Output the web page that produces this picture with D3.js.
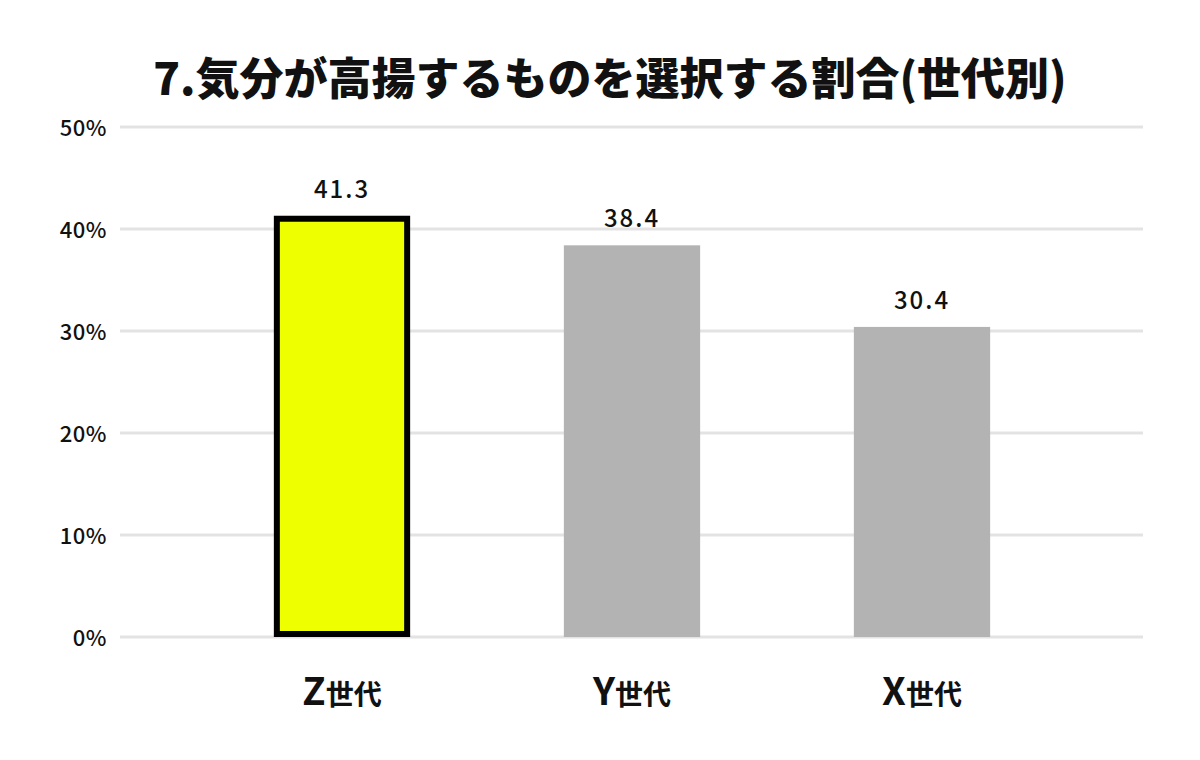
<!DOCTYPE html>
<html lang="ja">
<head>
    <meta charset="UTF-8">
    <title>7.気分が高揚するものを選択する割合(世代別)</title>
    <script src="https://cdn.jsdelivr.net/npm/d3@7/dist/d3.min.js"></script>
    <style>
        body {
            margin: 0;
            padding: 0;
            background-color: white;
        }
        svg {
            display: block;
            font-family: "Noto Sans CJK JP", "Noto Sans", sans-serif;
        }
    </style>
</head>
<body>
    <div id="chart"></div>
    <script>
        const width = 1200;
        const height = 760;

        // data
        const titleText = "7.気分が高揚するものを選択する割合(世代別)";
        const generations = ["Z", "Y", "X"];
        const categorySuffix = "世代";
        const shares = [41.3, 38.4, 30.4];
        const yTicks = [0, 10, 20, 30, 40, 50];

        const x = d3.scaleBand()
            .domain(generations)
            .range([197, 1067])
            .paddingInner(0.53)
            .paddingOuter(0.265);

        const y = d3.scaleLinear()
            .domain([0, 50])
            .range([637, 127]);

        const svg = d3.select("#chart")
            .append("svg")
            .attr("width", width)
            .attr("height", height);

        // title
        svg.append("text")
            .attr("x", 610)
            .attr("y", 95)
            .attr("text-anchor", "middle")
            .attr("font-size", 44)
            .attr("font-weight", 900)
            .attr("letter-spacing", 0)
            .attr("fill", "#111")
            .text(titleText);

        // gridlines
        svg.append("g")
            .selectAll("line")
            .data(yTicks)
            .join("line")
            .attr("x1", 120)
            .attr("x2", 1143)
            .attr("y1", d => y(d))
            .attr("y2", d => y(d))
            .attr("stroke", "#e3e3e3")
            .attr("stroke-width", 3);

        // y labels
        svg.append("g")
            .selectAll("text")
            .data(yTicks)
            .join("text")
            .attr("x", 107)
            .attr("y", d => y(d) + 9)
            .attr("text-anchor", "end")
            .attr("font-size", 22)
            .attr("font-weight", 500)
            .attr("letter-spacing", 0.5)
            .attr("fill", "#111")
            .text(d => d + "%");

        // bars (first one highlighted)
        const rows = generations.map((g, i) => ({ g, v: shares[i], i }));

        svg.append("g")
            .selectAll("rect")
            .data(rows)
            .join("rect")
            .attr("x", d => d.i === 0 ? x(d.g) + 3 : x(d.g))
            .attr("width", d => d.i === 0 ? x.bandwidth() - 6 : x.bandwidth())
            .attr("y", d => d.i === 0 ? y(d.v) + 3 : y(d.v))
            .attr("height", d => d.i === 0 ? y(0) - y(d.v) - 6 : y(0) - y(d.v))
            .attr("fill", d => d.i === 0 ? "#eeff00" : "#b3b3b3")
            .attr("stroke", d => d.i === 0 ? "#000" : "none")
            .attr("stroke-width", 6);

        // value labels
        svg.append("g")
            .selectAll("text")
            .data(rows)
            .join("text")
            .attr("x", d => x(d.g) + x.bandwidth() / 2)
            .attr("y", d => y(d.v) - 18)
            .attr("text-anchor", "middle")
            .attr("font-size", 24)
            .attr("font-weight", 500)
            .attr("letter-spacing", 2)
            .attr("fill", "#111")
            .text(d => d.v.toFixed(1));

        // category labels
        const cat = svg.append("g")
            .selectAll("text")
            .data(rows)
            .join("text")
            .attr("x", d => x(d.g) + x.bandwidth() / 2)
            .attr("y", 705)
            .attr("text-anchor", "middle")
            .attr("font-weight", 700)
            .attr("fill", "#111");
        cat.append("tspan")
            .attr("font-size", 38)
            .text(d => d.g);
        cat.append("tspan")
            .attr("font-size", 28)
            .text(categorySuffix);
    </script>
</body>
</html>
